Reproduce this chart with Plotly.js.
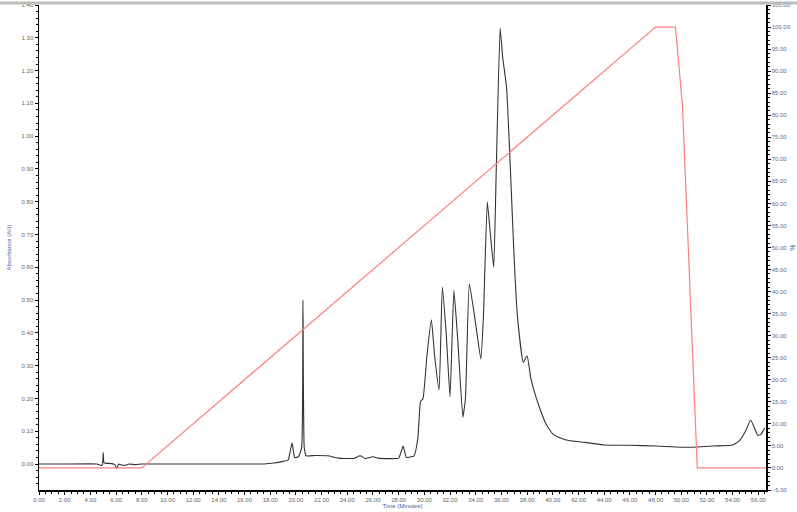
<!DOCTYPE html>
<html>
<head>
<meta charset="utf-8">
<script src="https://cdn.plot.ly/plotly-3.0.1.min.js"></script>
<style>
  html, body { margin: 0; padding: 0; background: #fff; }
  #chart { width: 797px; height: 512px; }
</style>
</head>
<body>
<div id="chart"></div>
<script>
// UV trace (absorbance, AU)
var timeMin = [
	0.0, 2.0, 4.5, 4.85, 4.95, 5.0, 5.05, 5.15, 5.5, 5.9, 6.05, 6.2, 6.4, 6.7, 7.0, 7.5, 8.0,
	10.0, 14.0, 17.5, 18.3, 19.0, 19.4, 19.7, 19.9, 20.2, 20.45, 20.55, 20.65, 20.8,
	21.5, 22.5, 23.3, 24.5, 25.0, 25.4, 26.0, 26.4, 28.0, 28.35, 28.6, 29.2, 29.5, 29.7,
	29.9, 30.2, 30.55, 30.8, 31.15, 31.4, 31.7, 32.0, 32.3, 32.6, 33.0, 33.2, 33.5, 33.95,
	34.4, 34.6, 34.9, 35.1, 35.4, 35.6, 35.9, 36.1, 36.4, 36.7, 37.0, 37.25, 37.7, 38.0,
	38.3, 38.9, 39.5, 40.0, 40.7, 41.5, 42.5, 44.0, 46.0, 48.0, 50.0, 51.2, 52.5, 54.0,
	54.5, 55.0, 55.4, 55.7, 55.95, 56.2, 56.5
];
var absorbance = [
	0.000, 0.000, 0.000, -0.005, 0.000, 0.035, 0.005, 0.002, 0.002, -0.002, -0.014, 0.000, -0.003, -0.004, 0.000, -0.002, 0.000,
	0.000, 0.000, 0.000, 0.003, 0.008, 0.012, 0.065, 0.020, 0.022, 0.050, 0.500, 0.050, 0.025,
	0.026, 0.025, 0.018, 0.017, 0.025, 0.017, 0.022, 0.018, 0.018, 0.055, 0.020, 0.025, 0.080, 0.190,
	0.200, 0.330, 0.440, 0.330, 0.226, 0.540, 0.400, 0.205, 0.530, 0.380, 0.143, 0.200, 0.550, 0.440,
	0.320, 0.450, 0.800, 0.720, 0.600, 0.900, 1.330, 1.240, 1.150, 0.900, 0.620, 0.450, 0.310, 0.330,
	0.260, 0.180, 0.120, 0.092, 0.078, 0.070, 0.066, 0.058, 0.057, 0.055, 0.051, 0.052, 0.055, 0.058,
	0.070, 0.100, 0.134, 0.110, 0.088, 0.090, 0.110
];

// gradient program (%B)
var gradTime = [0.0, 8.0, 48.0, 49.55, 50.1, 51.25, 56.6];
var gradPct = [0, 0, 100, 100, 82, 0, 0];

var tickFont = { family: 'Liberation Sans, Arial, sans-serif', size: 6, color: '#666' };

var trace_uv = {
	x: timeMin,
	y: absorbance,
	type: 'scatter',
	mode: 'lines',
	name: 'Absorbance',
	line: { color: '#333', width: 1.1, shape: 'spline', smoothing: 0.4 },
	hoverinfo: 'none'
};

var trace_grad = {
	x: gradTime,
	y: gradPct,
	type: 'scatter',
	mode: 'lines',
	name: '%',
	yaxis: 'y2',
	line: { color: '#ff7f7f', width: 1.2 },
	hoverinfo: 'none'
};

var layout = {
	width: 797,
	height: 512,
	margin: { l: 39, r: 31, t: 5, b: 22 },
	paper_bgcolor: '#fff',
	plot_bgcolor: '#fff',
	showlegend: false,
	xaxis: {
		range: [0, 56.6],
		tick0: 0,
		dtick: 2,
		tickformat: '.2f',
		ticks: 'outside',
		ticklen: 3,
		tickcolor: '#000',
		showgrid: false,
		zeroline: false,
		showline: true,
		linecolor: '#000',
		linewidth: 1.5,
		tickfont: tickFont,
		minor: { dtick: 0.5, ticklen: 2, tickcolor: '#000', ticks: 'outside', showgrid: false },
		title: { text: 'Time (Minutes)', font: { family: 'Liberation Sans, Arial, sans-serif', size: 6, color: '#4060a0' }, standoff: 2 },
		automargin: false
	},
	yaxis: {
		range: [-0.0793, 1.40],
		tick0: 0,
		dtick: 0.1,
		tickformat: '.2f',
		ticks: 'outside',
		ticklen: 3,
		tickcolor: '#000',
		showgrid: false,
		zeroline: false,
		showline: true,
		linecolor: '#000',
		linewidth: 1.5,
		tickfont: tickFont,
		minor: { dtick: 0.02, ticklen: 2, tickcolor: '#000', ticks: 'outside', showgrid: false },
		title: { text: 'Absorbance (AU)', font: { family: 'Liberation Sans, Arial, sans-serif', size: 6, color: '#4060a0' }, standoff: 9 },
		automargin: false
	},
	yaxis2: {
		overlaying: 'y',
		side: 'right',
		anchor: 'x',
		range: [-5, 105],
		tick0: 0,
		dtick: 5,
		tickformat: '.2f',
		ticks: 'outside',
		ticklen: 3,
		tickcolor: '#000',
		showgrid: false,
		zeroline: false,
		showline: true,
		linecolor: '#000',
		linewidth: 1.5,
		tickfont: { family: 'Liberation Sans, Arial, sans-serif', size: 6, color: '#5b6b9b' },
		minor: { dtick: 1, ticklen: 2, tickcolor: '#000', ticks: 'outside', showgrid: false },
		title: { text: '%', font: { family: 'Liberation Sans, Arial, sans-serif', size: 7, color: '#4060a0' }, standoff: 0 },
		automargin: false
	},
	shapes: [
		// grey frame line along the top of the picture
		{ type: 'line', xref: 'paper', yref: 'paper', x0: -0.06, x1: 1.05, y0: 1.004, y1: 1.004, line: { color: '#bbb', width: 3 } }
	]
};

Plotly.newPlot('chart', [trace_uv, trace_grad], layout, { staticPlot: true, displayModeBar: false });
</script>
</body>
</html>
